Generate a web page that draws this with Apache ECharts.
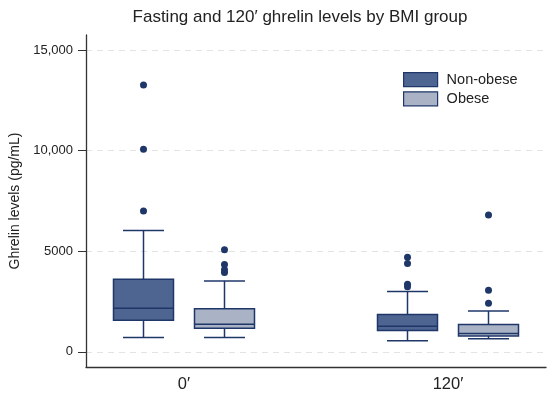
<!DOCTYPE html>
<html>
<head>
<meta charset="utf-8">
<script src="https://cdn.jsdelivr.net/npm/echarts@6/dist/echarts.min.js"></script>
<style>html,body{margin:0;padding:0;background:#fff}#c{width:550px;height:395px}</style>
</head>
<body>
<div id="c"></div>
<script>
// Data
const categories = ['0′', '120′'];
const seriesNames = ['Non-obese', 'Obese'];
// [min, Q1, median, Q3, max] per category
const nonObeseBox = [[710, 1575, 2170, 3610, 6030], [560, 1060, 1275, 1855, 3000]];
const obeseBox = [[710, 1175, 1375, 2150, 3530], [660, 795, 910, 1360, 2035]];
const nonObeseOutliers = [[13260, 10070, 7000], [4700, 4400, 3360, 3240]];
const obeseOutliers = [[5080, 4350, 4080, 3950], [6800, 3060, 2420]];
const yTicks = [0, 5000, 10000, 15000];

const lineColor = '#1f3768';
const fills = ['#4f6591', '#aab3c6'];
const offsets = [-40.5, 40.5];
const BOX_W = 60, CAP_W = 41;

function boxRender(offset) {
  return function (params, api) {
    const gi = api.value(0);
    const cx = api.coord([gi, 0])[0] + offset;
    const yMin = api.coord([gi, api.value(1)])[1];
    const yQ1 = api.coord([gi, api.value(2)])[1];
    const yMed = api.coord([gi, api.value(3)])[1];
    const yQ3 = api.coord([gi, api.value(4)])[1];
    const yMax = api.coord([gi, api.value(5)])[1];
    const ls = { stroke: lineColor, lineWidth: 1.5 };
    return {
      type: 'group',
      children: [
        { type: 'line', shape: { x1: cx, y1: yQ3, x2: cx, y2: yMax }, style: ls },
        { type: 'line', shape: { x1: cx, y1: yQ1, x2: cx, y2: yMin }, style: ls },
        { type: 'line', shape: { x1: cx - CAP_W / 2, y1: yMax, x2: cx + CAP_W / 2, y2: yMax }, style: ls },
        { type: 'line', shape: { x1: cx - CAP_W / 2, y1: yMin, x2: cx + CAP_W / 2, y2: yMin }, style: ls },
        { type: 'rect', shape: { x: cx - BOX_W / 2, y: yQ3, width: BOX_W, height: yQ1 - yQ3 },
          style: { fill: api.visual('color'), stroke: lineColor, lineWidth: 1.5 } },
        { type: 'line', shape: { x1: cx - BOX_W / 2, y1: yMed, x2: cx + BOX_W / 2, y2: yMed }, style: ls }
      ]
    };
  };
}

const boxSets = [nonObeseBox, obeseBox];
const outlierSets = [nonObeseOutliers, obeseOutliers];
const series = [];
boxSets.forEach(function (set, si) {
  series.push({
    type: 'custom',
    name: seriesNames[si],
    renderItem: boxRender(offsets[si]),
    itemStyle: { color: fills[si], borderColor: lineColor },
    clip: false,
    encode: { x: 0, y: [1, 2, 3, 4, 5] },
    data: set.map(function (b, gi) { return [gi].concat(b); }),
    z: 3
  });
});
outlierSets.forEach(function (set, si) {
  const pts = [];
  set.forEach(function (vals, gi) { vals.forEach(function (v) { pts.push([gi, v]); }); });
  series.push({
    type: 'scatter',
    name: seriesNames[si] + ' outliers',
    data: pts,
    symbol: 'circle',
    symbolSize: 7,
    symbolOffset: [offsets[si], 0],
    itemStyle: { color: lineColor, opacity: 1 },
    z: 4
  });
});

const chart = echarts.init(document.getElementById('c'));
chart.setOption({
  animation: false,
  textStyle: { fontFamily: 'Liberation Sans, Arial, sans-serif' },
  title: {
    text: 'Fasting and 120′ ghrelin levels by BMI group',
    left: 295, top: 4, textAlign: 'center',
    textStyle: { fontSize: 17, fontWeight: 'normal', color: '#222', fontFamily: 'Liberation Sans, Arial, sans-serif' }
  },
  legend: {
    orient: 'vertical', left: 403, top: 72, padding: 0,
    itemWidth: 34, itemHeight: 14, itemGap: 4,
    textStyle: { fontSize: 14.5, color: '#222', padding: [0, 0, 0, 4] },
    data: seriesNames.map(function (n, i) {
      return { name: n, icon: 'rect', itemStyle: { color: fills[i], borderColor: lineColor, borderWidth: 1.2 } };
    })
  },
  grid: { left: 86, right: 4, top: 35, bottom: 28, containLabel: false },
  xAxis: {
    type: 'value', min: -0.3712, max: 1.3712,
    axisLine: { show: true, onZero: false, lineStyle: { color: '#333', width: 1.3 } },
    axisTick: { show: false },
    splitLine: { show: false },
    axisLabel: {
      customValues: [0, 1],
      formatter: function (v) { return categories[Math.round(v)]; },
      fontSize: 16.5, color: '#222', margin: 9
    }
  },
  yAxis: {
    type: 'value', min: -750, max: 15750,
    name: 'Ghrelin levels (pg/mL)', nameLocation: 'middle', nameGap: 63,
    nameTextStyle: { fontSize: 14, color: '#222' },
    axisLine: { show: true, onZero: false, lineStyle: { color: '#333', width: 1.3 } },
    axisTick: { show: true, customValues: yTicks, length: 8, lineStyle: { color: '#333' } },
    axisLabel: {
      customValues: yTicks,
      formatter: function (v) { return v >= 10000 ? v.toLocaleString('en-US') : String(v); },
      fontSize: 13, color: '#222', margin: 13
    },
    splitLine: { show: true, lineStyle: { color: '#e3e3e3', type: [6, 5], width: 1 } }
  },
  series: series
});
</script>
</body>
</html>
